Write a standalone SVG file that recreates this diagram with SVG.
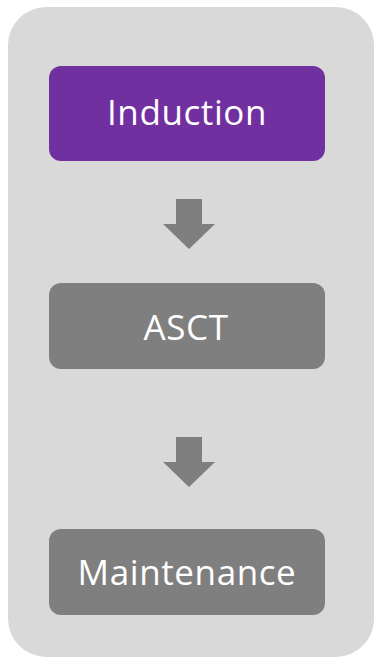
<svg xmlns="http://www.w3.org/2000/svg" width="376" height="663" viewBox="0 0 376 663">
  <style>
    .panel { fill: #d9d9d9; }
    .step { fill: #7f7f7f; }
    .step-active { fill: #7030a0; }
    .label { fill: #ffffff; font-family: "Open Sans", "Liberation Sans", sans-serif; font-size: 35px; letter-spacing: 0.6px; text-anchor: middle; }
    .flow { fill: #7f7f7f; }
  </style>
  <rect class="panel" x="8" y="7" width="366" height="650" rx="38" ry="38"/>

  <g id="induction">
    <rect class="step-active" x="49" y="66" width="276" height="95" rx="12" ry="12"/>
    <text class="label" x="187" y="125">Induction</text>
  </g>

  <g id="asct">
    <rect class="step" x="49" y="283" width="276" height="86" rx="12" ry="12"/>
    <text class="label" x="186" y="340">ASCT</text>
  </g>

  <g id="maintenance">
    <rect class="step" x="49" y="529" width="276" height="86" rx="12" ry="12"/>
    <text class="label" x="187" y="585">Maintenance</text>
  </g>

  <g id="connectors">
    <polygon class="flow" points="176,199 202,199 202,224 215,224 189,249 163,224 176,224"/>
    <polygon class="flow" points="176,437 202,437 202,462 215,462 189,487 163,462 176,462"/>
  </g>
</svg>
